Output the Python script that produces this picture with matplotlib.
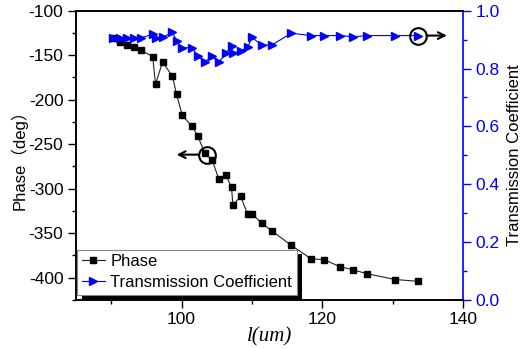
import matplotlib
matplotlib.use('Agg')
import matplotlib.pyplot as plt
from matplotlib.ticker import MultipleLocator, FormatStrFormatter
from matplotlib.patches import Rectangle

plt.rcParams['font.family'] = ['Liberation Sans', 'Noto Sans CJK SC']
plt.rcParams['font.size'] = 12
plt.rcParams['axes.unicode_minus'] = False

# values
length = [90.2, 91.2, 92.3, 93.3, 94.3, 95.9, 96.3, 97.3, 98.7, 99.3,
          100.1, 101.5, 102.3, 103.3, 104.35, 105.3, 106.3, 107.1, 107.3, 108.4,
          109.4, 110.0, 111.4, 112.8, 115.6, 118.4, 120.3, 122.45, 124.4, 126.4,
          130.35, 133.6]
phase = [-131.2, -135.3, -138.4, -141.3, -144.7, -151.5, -182.7, -157.6, -173.7, -194.0,
         -217.7, -229.9, -240.9, -259.5, -268.0, -289.2, -284.7, -298.4, -318.4, -308.6,
         -328.9, -328.1, -338.8, -347.2, -363.6, -378.7, -379.8, -387.4, -391.2, -395.5,
         -402.0, -404.0]
trans = [0.904, 0.904, 0.905, 0.905, 0.907, 0.918, 0.904, 0.908, 0.925, 0.896,
         0.872, 0.872, 0.843, 0.824, 0.842, 0.821, 0.853, 0.878, 0.853, 0.861,
         0.873, 0.908, 0.881, 0.881, 0.922, 0.914, 0.914, 0.914, 0.910, 0.914,
         0.914, 0.914]

fig = plt.figure(figsize=(5.26, 3.49), dpi=100)
ax = fig.add_axes([76/526, 1 - 300/349, 387/526, 289.3/349])
ax2 = ax.twinx()

p1, = ax.plot(length, phase, '-', color='#222222', lw=0.8, marker='s',
              ms=4.3, mfc='black', mec='black', label='Phase')
p2, = ax2.plot(length, trans, '-', color='blue', lw=0.8, marker='>',
               ms=5.5, mfc='blue', mec='blue', label='Transmission Coefficient')

ax.set_xlim(85, 140)
ax.set_ylim(-425, -100)
ax2.set_ylim(0, 1.0)

ax.xaxis.set_major_locator(MultipleLocator(20))
ax.xaxis.set_minor_locator(MultipleLocator(10))
ax.yaxis.set_major_locator(MultipleLocator(50))
ax.yaxis.set_minor_locator(MultipleLocator(25))
ax2.yaxis.set_major_locator(MultipleLocator(0.2))
ax2.yaxis.set_minor_locator(MultipleLocator(0.1))
ax2.yaxis.set_major_formatter(FormatStrFormatter('%.1f'))

ax.tick_params(which='major', length=6, width=1, pad=3, labelsize=12.5)
ax.tick_params(which='minor', length=3, width=1)
ax2.tick_params(which='major', length=6, width=1, colors='blue', pad=3, labelsize=12.5)
ax2.tick_params(which='minor', length=3, width=1, colors='blue')

for s in ax.spines.values():
    s.set_linewidth(1.2)
for s in ax2.spines.values():
    s.set_linewidth(1.2)
ax2.spines['right'].set_color('blue')
ax.spines['right'].set_visible(False)

ax.set_ylabel('Phase（deg）', labelpad=1)
ax2.set_ylabel('Transmission Coefficient', color='black', labelpad=5)
ax.set_xlabel('l(um)', family='Liberation Serif', style='italic', fontsize=15, labelpad=0)

# circles and arrows marking which axis each curve uses
ax.plot([103.55], [-261.7], 'o', ms=12, mfc='none', mec='black', mew=1.5)
ax.annotate('', xy=(99.3, -261.7), xytext=(102.4, -261.7),
            arrowprops=dict(arrowstyle='->', lw=1.5, color='black', shrinkA=0, shrinkB=0))
ax2.plot([133.6], [0.914], 'o', ms=12, mfc='none', mec='black', mew=1.5)
ax2.annotate('', xy=(137.7, 0.914), xytext=(134.8, 0.914),
             arrowprops=dict(arrowstyle='->', lw=1.5, color='black', shrinkA=0, shrinkB=0))

leg = ax2.legend([p1, p2], ['Phase', 'Transmission Coefficient'], loc='lower left',
                 bbox_to_anchor=(0.003, 0.018), borderaxespad=0, fancybox=False,
                 framealpha=1, edgecolor='#888888', handlelength=1.4, numpoints=1,
                 handletextpad=0.3, labelspacing=0.35, borderpad=0.28)
leg.get_frame().set_linewidth(0.8)
leg.set_zorder(6)

# thick black drop shadow behind the legend box
fig.canvas.draw()
bb = leg.get_frame().get_window_extent()
shadow = Rectangle((bb.x0 + 5, bb.y0 - 4), bb.width, bb.height, transform=None,
                   facecolor='black', edgecolor='none', zorder=5.5, clip_on=False)
ax2.add_patch(shadow)

fig.savefig('out.png', dpi=100)
